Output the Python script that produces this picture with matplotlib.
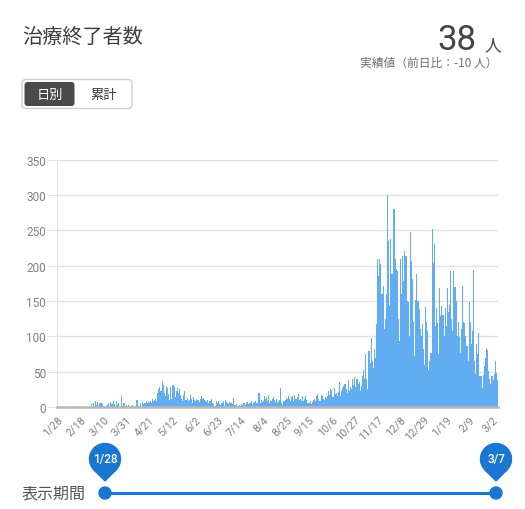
import numpy as np
import pandas as pd
import matplotlib
matplotlib.use("Agg")
import matplotlib.pyplot as plt
from matplotlib.patches import FancyBboxPatch, Circle, Polygon

plt.rcParams['font.family'] = ['Noto Sans CJK JP', 'DejaVu Sans']

# daily values, 2020-01-28 .. 2021-03-07
jan20 = [0, 0, 0, 0]
feb20 = [0, 0, 0, 0, 0, 0, 0, 0, 0, 0, 0, 0, 0, 0, 1, 0, 0, 0, 0, 0,
         0, 0, 0, 0, 0, 0, 0, 4, 0]
mar20 = [5, 0, 8, 3, 7, 0, 5, 6, 4, 2, 0, 0, 2, 3, 5, 0, 7, 4, 8, 4,
         0, 8, 3, 5, 0, 0, 15, 2, 5, 1, 3]
apr20 = [2, 3, 0, 0, 2, 3, 1, 0, 0, 10, 1, 2, 5, 0, 7, 4, 6, 5, 8, 6,
         7, 9, 6, 11, 8, 10, 11, 9, 20, 25]
may20 = [28, 22, 37, 31, 20, 15, 30, 27, 18, 10, 28, 12, 31, 29, 14, 22, 27, 20, 25, 17,
         12, 8, 17, 22, 10, 13, 8, 10, 17, 11, 5]
jun20 = [14, 10, 8, 12, 10, 7, 11, 16, 12, 13, 10, 8, 7, 10, 5, 8, 11, 6, 4, 2,
         1, 8, 6, 9, 4, 3, 5, 8, 2, 10]
jul20 = [7, 6, 4, 7, 6, 5, 4, 13, 3, 4, 2, 1, 3, 2, 4, 3, 5, 6, 3, 7,
         4, 6, 5, 8, 3, 5, 7, 9, 5, 6, 20]
aug20 = [6, 10, 7, 9, 15, 12, 14, 8, 17, 6, 9, 12, 14, 10, 7, 11, 5, 8, 10, 27,
         5, 3, 8, 10, 13, 12, 16, 11, 9, 14, 15]
sep20 = [9, 17, 12, 14, 18, 10, 12, 9, 15, 8, 12, 16, 10, 5, 6, 8, 4, 7, 10, 12,
         8, 15, 18, 12, 9, 17, 16, 11, 10, 14]
oct20 = [13, 15, 22, 17, 25, 24, 14, 27, 18, 20, 16, 21, 35, 15, 22, 27, 30, 32, 25, 20,
         38, 22, 29, 25, 39, 31, 42, 28, 40, 33, 36]
nov20 = [23, 30, 44, 53, 40, 75, 40, 25, 79, 62, 97, 65, 55, 82, 70, 117, 209, 185, 210, 202,
         160, 171, 110, 125, 160, 300, 235, 143, 238, 188]
dec20 = [188, 280, 210, 195, 193, 124, 93, 209, 160, 214, 178, 221, 214, 150, 148, 100, 248, 207, 181, 120,
         72, 152, 188, 150, 138, 110, 101, 117, 82, 60, 141]
jan21 = [120, 108, 53, 65, 77, 252, 204, 230, 115, 140, 119, 75, 169, 129, 143, 130, 101, 140, 115, 169,
         134, 145, 193, 125, 108, 193, 170, 150, 101, 120, 99]
feb21 = [77, 110, 171, 121, 119, 100, 86, 65, 148, 120, 89, 108, 194, 65, 46, 89, 75, 105, 44, 44,
         27, 45, 58, 70, 84, 80, 51, 40]
mar21 = [32, 44, 38, 46, 65, 48, 38]

values = (jan20 + feb20 + mar20 + apr20 + may20 + jun20 + jul20 + aug20 + sep20 +
          oct20 + nov20 + dec20 + jan21 + feb21 + mar21)
dates = pd.date_range("2020-01-28", "2021-03-07")

tick_labels = ['1/28', '2/18', '3/10', '3/31', '4/21', '5/12', '6/2', '6/23', '7/14', '8/4',
               '8/25', '9/15', '10/6', '10/27', '11/17', '12/8', '12/29', '1/19', '2/9', '3/2']

fig = plt.figure(figsize=(5.25, 5.1), dpi=100)

# decoration layer in pixel coordinates
bg = fig.add_axes([0, 0, 1, 1])
bg.set_xlim(0, 525)
bg.set_ylim(510, 0)
bg.axis('off')

bg.text(22, 37, '治療終了者数', fontsize=14.5, color='#3c3c3c', va='center', ha='left')
bg.text(476, 50, '38', fontsize=25, color='#444444', va='baseline', ha='right',
        family=['Roboto', 'DejaVu Sans'])
bg.text(484, 50, '人', fontsize=12, color='#444444', va='baseline', ha='left')
bg.text(498, 63, '実績値（前日比：-10 人）', fontsize=8.5, color='#707070', va='center', ha='right')

bg.add_patch(FancyBboxPatch((22, 80.5), 110, 29, boxstyle='round,pad=0,rounding_size=4',
                            fc='white', ec='#cfcfcf', lw=1))
bg.add_patch(FancyBboxPatch((24.5, 83), 50, 24, boxstyle='round,pad=0,rounding_size=3',
                            fc='#4a4a4a', ec='none'))
bg.text(49.5, 95, '日別', fontsize=9.5, color='white', va='center', ha='center')
bg.text(104, 95, '累計', fontsize=9.5, color='#333333', va='center', ha='center')

# period slider
blue = '#1976d2'
bg.text(22, 494, '表示期間', fontsize=11.5, color='#555555', va='center', ha='left')
bg.plot([105, 496], [494, 494], color=blue, lw=2.2, solid_capstyle='butt')
r = 15.5
for cx, lab in [(105, '1/28'), (496, '3/7')]:
    bg.add_patch(Circle((cx, 494), 6, color=blue))
    cy = 460
    bg.add_patch(Circle((cx, cy), r, color=blue))
    d = r / np.sqrt(2)
    bg.add_patch(Polygon([(cx - d, cy + d), (cx, cy + r * np.sqrt(2)), (cx + d, cy + d)],
                         closed=True, color=blue))
    bg.text(cx, cy, lab, fontsize=8.5, color='white', va='center', ha='center',
            family=['Roboto', 'DejaVu Sans'], fontweight='medium')

# bar chart
ax = fig.add_axes([57 / 525, 1 - 408 / 510, 441 / 525, (408 - 160.7) / 510])
ax.set_facecolor('none')
x = np.arange(len(values))
ax.bar(x, values, width=1.0, color='#62acf2', edgecolor='none', zorder=2)
ax.set_xlim(-0.5, len(values) - 0.5)
ax.set_ylim(0, 350)
ax.set_yticks([0, 50, 100, 150, 200, 250, 300, 350])
ax.grid(axis='y', color='#e2e2e2', lw=1, zorder=0)
ax.tick_params(axis='y', length=7, color='#e2e2e2', labelcolor='#808080', labelsize=8.5, pad=1)
for lab in ax.get_yticklabels():
    lab.set_family(['Roboto', 'DejaVu Sans'])
ax.set_xticks(x[::21])
ax.set_xticklabels(tick_labels, rotation=45, ha='right', rotation_mode='anchor',
                   fontsize=7.8, color='#808080', family=['Roboto', 'DejaVu Sans'])
ax.tick_params(axis='x', length=0, pad=5)
for s in ['top', 'right']:
    ax.spines[s].set_visible(False)
ax.spines['left'].set_color('#e2e2e2')
ax.spines['bottom'].set_color('#b8b8b8')
ax.spines['bottom'].set_linewidth(1.8)
ax.spines['bottom'].set_zorder(3)

fig.savefig('out.png', dpi=100)
